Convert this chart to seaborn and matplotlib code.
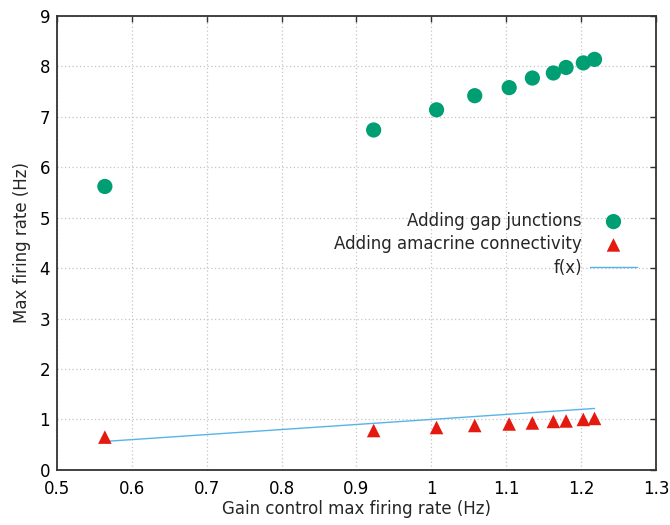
import matplotlib
matplotlib.use("Agg")
import matplotlib.pyplot as plt
import seaborn as sns
import numpy as np
import pandas as pd

# values
gain_rate = [0.564, 0.923, 1.007, 1.058, 1.104, 1.135, 1.163, 1.180, 1.203, 1.218]
gap_junctions = [5.62, 6.74, 7.14, 7.42, 7.58, 7.77, 7.87, 7.98, 8.07, 8.14]
amacrine = [0.65, 0.78, 0.84, 0.88, 0.91, 0.93, 0.96, 0.97, 1.00, 1.02]
fx = gain_rate  # f(x) = x

x_ticks = [0.5, 0.6, 0.7, 0.8, 0.9, 1, 1.1, 1.2, 1.3]
x_tick_labels = ["0.5", "0.6", "0.7", "0.8", "0.9", "1", "1.1", "1.2", "1.3"]
y_ticks = list(range(0, 10))

df = pd.DataFrame({"x": gain_rate, "gap": gap_junctions, "ama": amacrine, "fx": fx})

sns.set_style("white")
plt.rcParams["font.family"] = ["DejaVu Sans"]

fig = plt.figure(figsize=(6.7, 5.25), dpi=100)
ax = fig.add_axes([0.085, 0.105, 0.894, 0.8645])

sns.scatterplot(data=df, x="x", y="gap", ax=ax, color="#009e73", marker="o",
                s=120, edgecolor="none", label="Adding gap junctions", zorder=3)
sns.scatterplot(data=df, x="x", y="ama", ax=ax, color="#e41a10", marker="^",
                s=95, edgecolor="none", label="Adding amacrine connectivity", zorder=3)
sns.lineplot(data=df, x="x", y="fx", ax=ax, color="#56b4e9", linewidth=1,
             label="f(x)", zorder=2)

ax.set_xlim(0.5, 1.3)
ax.set_ylim(0, 9)
ax.set_xticks(x_ticks)
ax.set_xticklabels(x_tick_labels)
ax.set_yticks(y_ticks)
ax.tick_params(direction="in", top=True, right=True, length=4.5, width=1,
               labelsize=12, colors="#333333", labelcolor="black", pad=5)
ax.tick_params(axis="x", pad=7)
for s in ax.spines.values():
    s.set_color("#333333")
    s.set_linewidth(1.3)
ax.grid(True, linestyle=(0, (1, 2)), color="#c4c4c4", linewidth=0.9)

ax.set_xlabel("Gain control max firing rate (Hz)", fontsize=12, labelpad=2)
ax.set_ylabel("Max firing rate (Hz)", fontsize=12, labelpad=6)

ax.legend(loc="center right", bbox_to_anchor=(0.982, 0.497), frameon=False,
          markerfirst=False, fontsize=12, handlelength=2.8, labelspacing=0.32,
          handletextpad=0.5, borderpad=0)

fig.savefig("out.png", dpi=100)
